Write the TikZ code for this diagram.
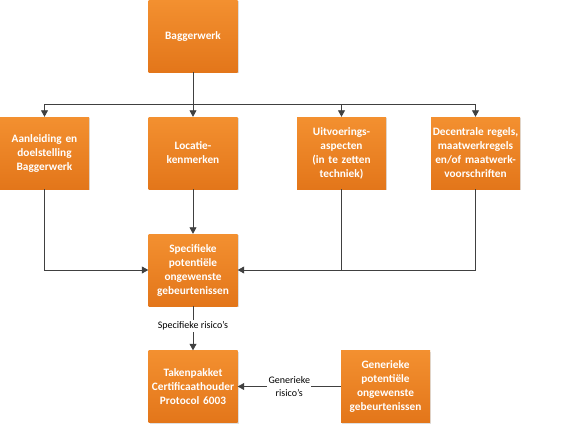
\documentclass[tikz,border=0pt]{standalone}
\usepackage{fontspec}
\setmainfont{Carlito}
\usepackage{tikz}
\usepackage{xcolor}
\usetikzlibrary{
    arrows.meta,
    shadows,
    calc,
    positioning
}
\definecolor{boxtop}{HTML}{F39030}
\definecolor{boxbottom}{HTML}{E3761A}
\definecolor{linegray}{HTML}{404040}
\tikzset{
    block/.style={rectangle, minimum width=89pt, minimum height=72pt, inner sep=1pt,
        top color=boxtop, bottom color=boxbottom, draw=none,
        drop shadow={shadow xshift=1pt, shadow yshift=-1pt, opacity=0.25},
        text=white, font=\bfseries\fontsize{11.3}{14}\selectfont, align=center, text width=87pt},
    arr/.style={draw=linegray, line width=0.8pt, -{Triangle[width=7pt,length=6.5pt]}},
    conn/.style={draw=linegray, line width=0.8pt},
    lbl/.style={fill=white, inner sep=1.5pt, font=\fontsize{10}{12.5}\selectfont, align=center, text=black}
}

\begin{document}
\begin{tikzpicture}[x=1pt, y=-1pt]
                            \useasboundingbox (0,0) rectangle (562,426);
                            \node[block] (bagger) at (193, 36) {Baggerwerk};
                            \node[block] (aanl) at (44.5, 153) {Aanleiding en\\doelstelling\\Baggerwerk};
                            \node[block] (loc) at (193, 153) {Locatie-\\kenmerken};
                            \node[block] (uitv) at (341.5, 153) {Uitvoerings-\\aspecten\\(in te zetten\\techniek)};
                            \node[block] (dec) at (475.5, 153) {Decentrale regels,\\maatwerkregels\\en/of maatwerk-\\voorschriften};
                            \node[block] (spec) at (193, 270) {Specifieke\\potentiële\\ongewenste\\gebeurtenissen};
                            \node[block] (taken) at (193, 386.5) {Takenpakket\\Certificaathouder\\Protocol 6003};
                            \node[block] (gen) at (385.5, 386.5) {Generieke\\potentiële\\ongewenste\\gebeurtenissen};
                            \coordinate (bus) at (193, 104);
                            \draw[conn] (bagger.south) -- (bus);
                            \draw[arr] (bus) -| (aanl.north);
                            \draw[arr] (bus) -- (loc.north);
                            \draw[arr] (bus) -| (uitv.north);
                            \draw[arr] (bus) -| (dec.north);
                            \draw[arr] (aanl.south) |- (spec.west);
                            \draw[arr] (loc.south) -- (spec.north);
                            \draw[arr] (dec.south) |- (spec.east);
                            \draw[conn] (uitv.south) -- (uitv.south |- spec.east);
                            \draw[arr] (spec.south) -- node[lbl, pos=0.45] (speclbl) {Specifieke risico’s} (taken.north);
                            \draw[arr] (gen.west) -- node[lbl, pos=0.5] (genlbl) {Generieke\\risico’s} (taken.east);
                        \end{tikzpicture}
\end{document}
